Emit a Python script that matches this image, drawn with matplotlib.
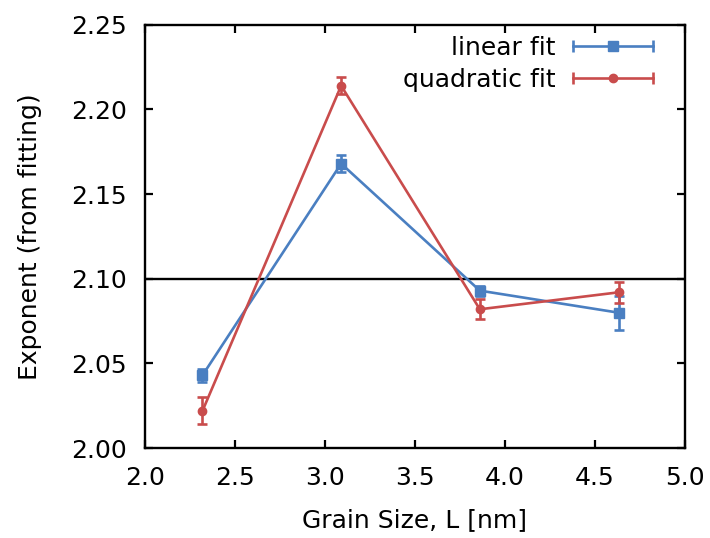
import matplotlib.pyplot as plt
from matplotlib.legend_handler import HandlerBase
from matplotlib.lines import Line2D
import numpy as np

# grain size L [nm]
L = [2.32, 3.09, 3.86, 4.63]

# exponents from fitting, with error bars
lin = [2.043, 2.168, 2.093, 2.080]
lin_err = [0.004, 0.005, 0.003, 0.010]
quad = [2.022, 2.214, 2.082, 2.092]
quad_err = [0.008, 0.005, 0.006, 0.006]

ref_line = 2.10

blue = '#4a7fc1'
red = '#c94c4c'
lw = 1.9


# gnuplot style key sample: line with end caps and a marker in the middle
class HandlerGnuErr(HandlerBase):
    def __init__(self, marker, ms):
        super().__init__()
        self.marker = marker
        self.ms = ms

    def create_artists(self, legend, orig_handle, xdescent, ydescent,
                       width, height, fontsize, trans):
        c = orig_handle.get_color()
        y = height / 2 - ydescent
        x0, x1 = -xdescent, width - xdescent
        line = Line2D([x0, x1], [y, y], color=c, lw=lw, transform=trans)
        caps = Line2D([x0, x1], [y, y], color=c, lw=0, marker='|', ms=9, mew=lw,
                      transform=trans)
        mk = Line2D([(x0 + x1) / 2], [y], color=c, lw=0, marker=self.marker,
                    ms=self.ms, transform=trans)
        return [line, caps, mk]


plt.rcParams['font.family'] = ['DejaVu Sans']
fig = plt.figure(figsize=(7.1, 5.38), dpi=100)
ax = fig.add_axes([0.204, 0.167, 0.761, 0.787])

ax.axhline(ref_line, color='black', lw=1.7, zorder=1)

ax.errorbar(L, lin, yerr=lin_err, color=blue, marker='s', ms=6.5,
            lw=lw, capsize=3.5, capthick=lw, elinewidth=lw)
ax.errorbar(L, quad, yerr=quad_err, color=red, marker='o', ms=6,
            lw=lw, capsize=3.5, capthick=lw, elinewidth=lw)

h_lin = Line2D([], [], color=blue)
h_quad = Line2D([], [], color=red)
ax.legend([h_lin, h_quad], ['linear fit', 'quadratic fit'],
          handler_map={h_lin: HandlerGnuErr('s', 6.5), h_quad: HandlerGnuErr('o', 6)},
          loc='upper right', bbox_to_anchor=(0.941, 0.973), frameon=False,
          markerfirst=False, fontsize=18, handlelength=3.2, borderaxespad=0.0,
          borderpad=0.0, labelspacing=0.3, handletextpad=0.7)

ax.set_xlim(2.0, 5.0)
ax.set_ylim(2.0, 2.25)
ax.set_xticks(np.arange(2.0, 5.01, 0.5))
ax.set_yticks(np.arange(2.0, 2.251, 0.05))
ax.set_xticklabels([f'{v:.1f}' for v in np.arange(2.0, 5.01, 0.5)])
ax.set_yticklabels([f'{v:.2f}' for v in np.arange(2.0, 2.251, 0.05)])
ax.tick_params(direction='in', top=True, right=True, length=6, width=1.6, labelsize=18)
ax.tick_params(axis='y', pad=13)
ax.tick_params(axis='x', pad=13)
for s in ax.spines.values():
    s.set_linewidth(1.7)

ax.set_xlabel('Grain Size, L [nm]', fontsize=18, labelpad=13)
ax.set_ylabel('Exponent (from fitting)', fontsize=18, labelpad=21)

fig.savefig('out.png', dpi=100)
